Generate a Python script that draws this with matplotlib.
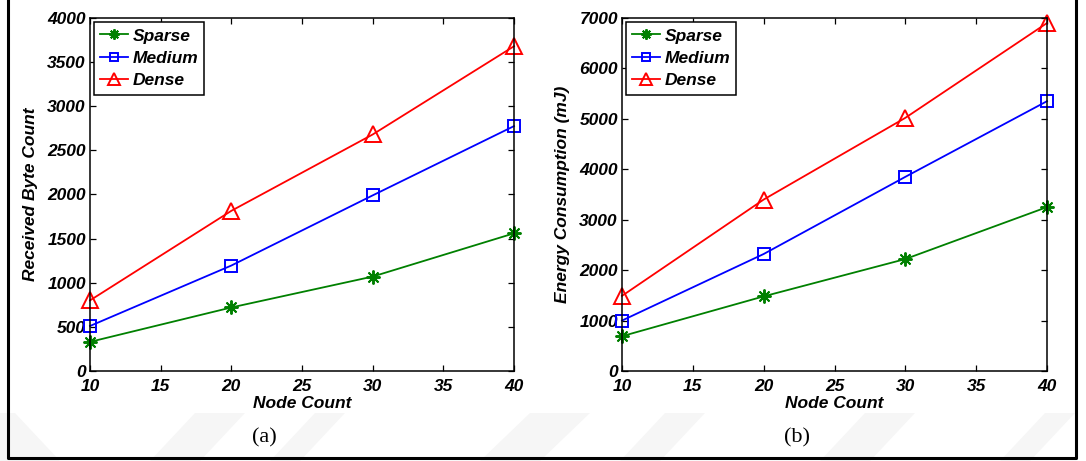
import numpy as np
import matplotlib
matplotlib.use("Agg")
from matplotlib import pyplot as plt
from matplotlib.patches import Polygon
from matplotlib.lines import Line2D
from matplotlib.font_manager import FontProperties

nodes = [10, 20, 30, 40]

# (a) received bytes
bytesSparse = [330, 720, 1070, 1560]
bytesMedium = [510, 1195, 1990, 2775]
bytesDense = [800, 1815, 2680, 3680]

# (b) energy consumption
energySparse = [690, 1480, 2220, 3250]
energyMedium = [1000, 2320, 3850, 5350]
energyDense = [1490, 3400, 5020, 6900]

labels = ["Sparse", "Medium", "Dense"]
colors = ["#008000", "#0000ff", "#ff0000"]
markers = [(8, 2, 0), "s", "^"]
msizes = [10, 8.5, 11.5]

fnt = dict(family="Liberation Sans", weight="bold", style="italic", size=12.5)

fig = plt.figure(figsize=(10.86, 4.61), dpi=100)
fig.patch.set_facecolor("white")

# faint background stripes at the bottom
stripes = [
    [(0, 0), (60, 0), (15, 48), (0, 48)],
    [(150, 0), (200, 0), (245, 48), (195, 48)],
    [(270, 0), (300, 0), (345, 48), (315, 48)],
    [(480, 0), (540, 0), (590, 48), (530, 48)],
    [(620, 0), (660, 0), (705, 48), (665, 48)],
    [(820, 0), (870, 0), (915, 48), (865, 48)],
    [(1000, 0), (1030, 0), (1075, 48), (1045, 48)],
]
for s in stripes:
    pts = [(x / 1086, y / 461) for x, y in s]
    fig.patches.append(Polygon(pts, closed=True, transform=fig.transFigure,
                               facecolor="#f6f6f6", edgecolor="none", zorder=0))

def draw(ax, series, ylim, ystep, ylabel):
    for vals, lab, c, m, ms in zip(series, labels, colors, markers, msizes):
        ax.plot(nodes, vals, color=c, marker=m, markersize=ms, linewidth=1.3,
                markerfacecolor="none", markeredgecolor=c, markeredgewidth=1.4,
                label=lab, clip_on=False)
    ax.set_xlim(10, 40)
    ax.set_ylim(0, ylim)
    ax.set_xticks(np.arange(10, 41, 5))
    ax.set_yticks(np.arange(0, ylim + 1, ystep))
    ax.tick_params(direction="in", length=4, width=0.9, top=True, right=True)
    ax.tick_params(axis="x", pad=6)
    ax.tick_params(axis="y", pad=3)
    for t in ax.get_xticklabels() + ax.get_yticklabels():
        t.set_fontproperties(FontProperties(**fnt))
    for sp in ax.spines.values():
        sp.set_linewidth(1.1)
    ax.set_xlabel("Node Count", labelpad=1, **fnt)
    ax.set_ylabel(ylabel, labelpad=7, **fnt)
    leg = ax.legend(loc="upper left", prop=FontProperties(**fnt),
                    fancybox=False, edgecolor="black", framealpha=1,
                    borderaxespad=0.25, handlelength=1.6, handletextpad=0.25,
                    labelspacing=0.42, borderpad=0.35, markerscale=0.75)
    leg.get_frame().set_linewidth(1.1)

ax1 = fig.add_axes([90 / 1086, 90 / 461, 424 / 1086, 353 / 461])
draw(ax1, [bytesSparse, bytesMedium, bytesDense], 4000, 500, "Received Byte Count")

ax2 = fig.add_axes([622 / 1086, 90 / 461, 425 / 1086, 353 / 461])
draw(ax2, [energySparse, energyMedium, energyDense], 7000, 1000, "Energy Consumption (mJ)")

fig.text(264 / 1086, 1 - 438 / 461, "(a)", family="Liberation Serif", size=16,
         ha="center", va="center")
fig.text(797 / 1086, 1 - 438 / 461, "(b)", family="Liberation Serif", size=16,
         ha="center", va="center")

# outer frame (open at the top)
x0, x1, yb = 8 / 1086, 1076 / 1086, 1 - 458 / 461
fig.lines.append(Line2D([x0, x0, x1, x1], [1.01, yb, yb, 1.01],
                        transform=fig.transFigure, color="black", linewidth=2.2))

fig.savefig("out.png", dpi=100)
